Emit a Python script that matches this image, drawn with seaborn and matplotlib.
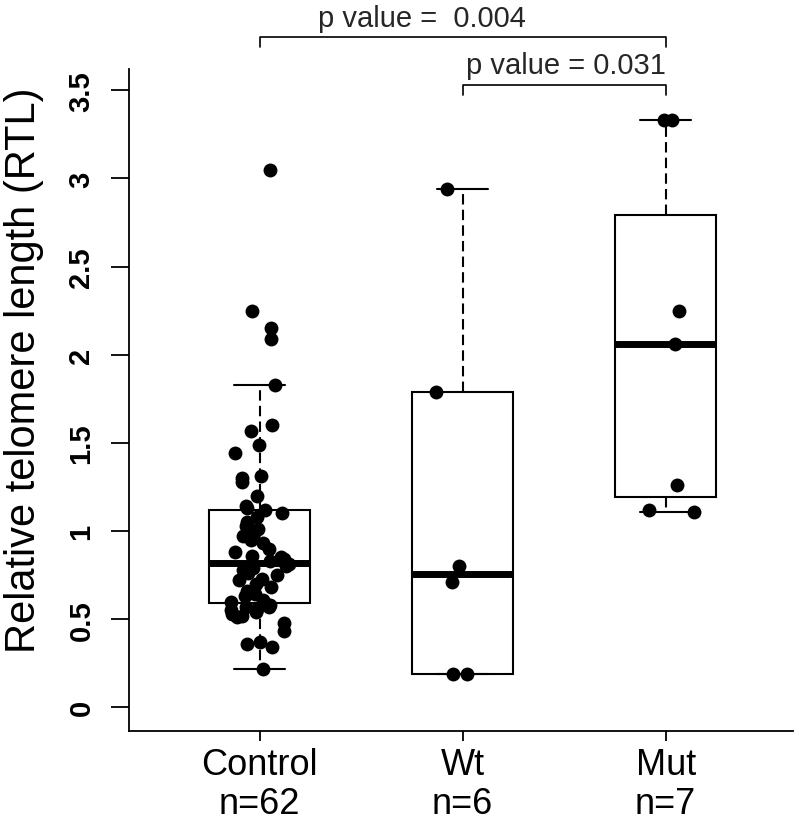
# Boxplot of relative telomere length by group, R style
import numpy as np
import pandas as pd
import matplotlib
matplotlib.use('Agg')
import matplotlib.pyplot as plt
import seaborn as sns

# Data
groups = ['Control', 'Wt', 'Mut']
control_rtl = [0.215, 0.34, 0.36, 0.37, 0.43, 0.48, 0.51, 0.52, 0.53, 0.54,
               0.55, 0.56, 0.57, 0.57, 0.58, 0.59, 0.60, 0.61, 0.63, 0.64,
               0.66, 0.68, 0.70, 0.72, 0.73, 0.75, 0.76, 0.78, 0.79, 0.80,
               0.81, 0.83, 0.84, 0.85, 0.86, 0.88, 0.90, 0.93, 0.95, 0.97,
               0.99, 1.01, 1.03, 1.05, 1.08, 1.10, 1.12, 1.13, 1.14, 1.20,
               1.28, 1.30, 1.31, 1.44, 1.49, 1.57, 1.60, 1.83, 2.09, 2.15,
               2.25, 3.05]
wt_rtl = [0.19, 0.19, 0.71, 0.80, 1.79, 2.94]
mut_rtl = [1.11, 1.12, 1.26, 2.06, 2.25, 3.33, 3.33]
p_values = ['0.004', '0.031']
y_ticks = [0, 0.5, 1, 1.5, 2, 2.5, 3, 3.5]

values = [control_rtl, wt_rtl, mut_rtl]
df = pd.DataFrame({
    'group': np.repeat(groups, [len(v) for v in values]),
    'rtl': np.concatenate(values),
})


# R style box stats (Tukey hinges, 1.5 IQR whiskers)
def r_box_stats(x):
    x = np.sort(np.asarray(x, dtype=float))
    n = len(x)
    n4 = np.floor((n + 3) / 2) / 2
    d = np.array([1, n4, (n + 1) / 2, n + 1 - n4, n])
    five = 0.5 * (x[np.floor(d).astype(int) - 1] + x[np.ceil(d).astype(int) - 1])
    iqr = five[3] - five[1]
    lo = x[x >= five[1] - 1.5 * iqr].min()
    hi = x[x <= five[3] + 1.5 * iqr].max()
    return {'whislo': lo, 'q1': five[1], 'med': five[2], 'q3': five[3],
            'whishi': hi, 'fliers': []}


sns.set_style('ticks')
plt.rcParams['font.family'] = ['Liberation Sans', 'DejaVu Sans']

fig = plt.figure(figsize=(8, 8.2), dpi=100)
ax = fig.add_axes([0.161, 0.107, 0.83, 0.8075])

stats = [r_box_stats(v) for v in values]
ax.bxp(stats, positions=[0, 1, 2], widths=0.5, capwidths=0.25,
       showfliers=False, patch_artist=True,
       boxprops=dict(facecolor='white', edgecolor='black', linewidth=1.5),
       medianprops=dict(color='black', linewidth=5, solid_capstyle='butt'),
       whiskerprops=dict(color='black', linewidth=1.5, linestyle=(0, (5, 2.5))),
       capprops=dict(color='black', linewidth=1.5),
       zorder=2)

np.random.seed(3)
sns.stripplot(data=df, x='group', y='rtl', order=groups, color='black',
              size=10, jitter=0.15, linewidth=0, ax=ax, zorder=3)

ax.set_xlim(-0.645, 2.626)
ax.set_ylim(-0.136, 3.62)

# axes styling
sns.despine(ax=ax)
for s in ['left', 'bottom']:
    ax.spines[s].set_linewidth(1.3)
    ax.spines[s].set_color('black')

ax.set_yticks(y_ticks, labels=[f'{v:g}' for v in y_ticks],
              fontweight='bold', rotation=90, va='center')
ax.tick_params(axis='y', length=13, width=1.3, pad=11, labelsize=21,
               colors='black')

xlabels = [f'{g}\nn={len(v)}' for g, v in zip(groups, values)]
ax.set_xticks([0, 1, 2], labels=xlabels, linespacing=1.15)
ax.tick_params(axis='x', length=7, width=1.3, pad=4, labelsize=26,
               colors='black')

ax.set_xlabel('')
ax.set_ylabel('Relative telomere length (RTL)', fontsize=30, color='black')
ax.yaxis.set_label_coords(-0.128, 0.547)

# significance brackets
ax.plot([0, 0, 2, 2], [3.744, 3.80, 3.80, 3.744], color='black', lw=1.2,
        clip_on=False)
ax.text(0.80, 3.863, f'p value =  {p_values[0]}', ha='center', va='baseline',
        fontsize=21, clip_on=False)
ax.plot([1, 1, 2, 2], [3.471, 3.528, 3.528, 3.471], color='black', lw=1.2,
        clip_on=False)
ax.text(1.51, 3.60, f'p value = {p_values[1]}', ha='center', va='baseline',
        fontsize=21, clip_on=False)

fig.savefig('out.png', dpi=100, facecolor='white')
